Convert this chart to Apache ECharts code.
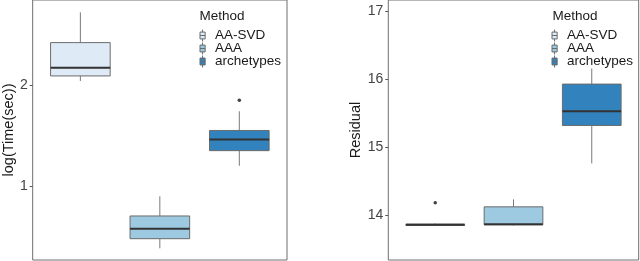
<!DOCTYPE html>
<html>
<head>
<meta charset="utf-8">
<script src="https://cdn.jsdelivr.net/npm/echarts@6/dist/echarts.min.js"></script>
<style>
html,body{margin:0;padding:0;background:#fff;}
#chart{width:640px;height:261px;}
</style>
</head>
<body>
<div id="chart"></div>
<script>
// ---- data ----
const methods = ['AA-SVD', 'AAA', 'archetypes'];
// box stats: [min, Q1, median, Q3, max]
const timeAASVD = [2.04, 2.09, 2.17, 2.42, 2.72];
const timeAAA = [0.383, 0.478, 0.577, 0.703, 0.898];
const timeArchetypes = [1.20, 1.35, 1.46, 1.55, 1.74];
const timeOutliers = [[3, 1.85]];
const residAASVD = [13.84, 13.845, 13.855, 13.865, 13.875];
const residAAA = [13.845, 13.855, 13.865, 14.12, 14.23];
const residArchetypes = [14.76, 15.32, 15.53, 15.93, 16.16];
const residOutliers = [[1, 14.18]];
const timeTicks = [1, 2];
const residTicks = [14, 15, 16, 17];

const fills = ['#DEEBF7', '#9ECAE1', '#3182BD'];
const FONT = 'Liberation Sans, Arial, sans-serif';

function renderBox(params, api) {
  const x = api.value(0);
  const v = [1, 2, 3, 4, 5].map(i => api.value(i));
  const p = v.map(val => api.coord([x, val]));
  const cx = p[0][0];
  const half = api.size([0.75, 0])[0] / 2;
  const fill = api.visual('color');
  return {
    type: 'group',
    children: [
      {type: 'line', shape: {x1: cx, y1: p[3][1], x2: cx, y2: p[4][1]}, style: {stroke: '#7a7a7a', lineWidth: 1}},
      {type: 'line', shape: {x1: cx, y1: p[1][1], x2: cx, y2: p[0][1]}, style: {stroke: '#7a7a7a', lineWidth: 1}},
      {type: 'rect', shape: {x: cx - half, y: p[3][1], width: 2 * half, height: p[1][1] - p[3][1]},
        style: {fill: fill, stroke: '#6b6b6b', lineWidth: 1}},
      {type: 'line', shape: {x1: cx - half, y1: p[2][1], x2: cx + half, y2: p[2][1]}, style: {stroke: '#333', lineWidth: 2}}
    ]
  };
}

function boxSeries(name, stats, idx, grid) {
  return {
    type: 'custom', name: name, xAxisIndex: grid, yAxisIndex: grid,
    itemStyle: {color: fills[idx], borderColor: '#6b6b6b', borderWidth: 1},
    renderItem: renderBox,
    encode: {x: 0, y: [1, 2, 3, 4, 5]},
    data: [[idx + 1].concat(stats)]
  };
}

const iconPath = 'path://M0,3L6,3L6,11L0,11ZM3,0L3,3M3,11L3,14M0,7L6,7';

function yAx(grid, min, max, ticks, name, gap) {
  return {
    type: 'value', gridIndex: grid, min: min, max: max,
    name: name, nameLocation: 'middle', nameGap: gap,
    nameTextStyle: {fontFamily: FONT, fontSize: 14.5, color: '#1a1a1a'},
    splitLine: {show: false},
    axisLine: {show: false},
    axisTick: {show: true, length: 3, lineStyle: {color: '#555'}, customValues: ticks},
    axisLabel: {fontFamily: FONT, fontSize: 14, color: '#444', margin: 5, customValues: ticks}
  };
}
function xAx(grid) {
  return {
    type: 'value', gridIndex: grid, min: 0.4, max: 3.6,
    axisLine: {show: false}, axisTick: {show: false}, axisLabel: {show: false}, splitLine: {show: false}
  };
}
function legendAt(left) {
  return {
    orient: 'vertical', left: left, top: 28.5, padding: 0, itemWidth: 15, itemHeight: 12, itemGap: -1,
    icon: iconPath, data: methods,
    textStyle: {fontFamily: FONT, fontSize: 13.5, lineHeight: 13, color: '#1a1a1a'},
    itemStyle: {borderColor: '#6b6b6b', borderWidth: 1},
    selectedMode: false
  };
}

const chart = echarts.init(document.getElementById('chart'), null, {renderer: 'canvas'});
chart.setOption({
  animation: false,
  backgroundColor: '#fff',
  title: [
    {text: 'Method', left: 199.5, top: 9, textStyle: {fontFamily: FONT, fontSize: 13.5, fontWeight: 'normal', color: '#1a1a1a'}, padding: 0},
    {text: 'Method', left: 552.5, top: 9, textStyle: {fontFamily: FONT, fontSize: 13.5, fontWeight: 'normal', color: '#1a1a1a'}, padding: 0}
  ],
  legend: [legendAt(199.5), legendAt(551.5)],
  grid: [
    {left: 31, top: 0, width: 256, height: 260, show: true, borderColor: '#6e6e6e', borderWidth: 1, backgroundColor: 'transparent'},
    {left: 388.3, top: 0, width: 250.4, height: 260, show: true, borderColor: '#6e6e6e', borderWidth: 1, backgroundColor: 'transparent'}
  ],
  xAxis: [xAx(0), xAx(1)],
  yAxis: [
    yAx(0, 0.267, 2.842, timeTicks, 'log(Time(sec))', 14),
    yAx(1, 13.336, 17.17, residTicks, 'Residual', 21)
  ],
  series: [
    boxSeries(methods[0], timeAASVD, 0, 0),
    boxSeries(methods[1], timeAAA, 1, 0),
    boxSeries(methods[2], timeArchetypes, 2, 0),
    boxSeries(methods[0], residAASVD, 0, 1),
    boxSeries(methods[1], residAAA, 1, 1),
    boxSeries(methods[2], residArchetypes, 2, 1),
    {type: 'scatter', name: 'outliers', xAxisIndex: 0, yAxisIndex: 0, symbolSize: 3.5, itemStyle: {color: '#111'}, data: timeOutliers},
    {type: 'scatter', name: 'outliers', xAxisIndex: 1, yAxisIndex: 1, symbolSize: 3.5, itemStyle: {color: '#111'}, data: residOutliers}
  ]
});
</script>
</body>
</html>
